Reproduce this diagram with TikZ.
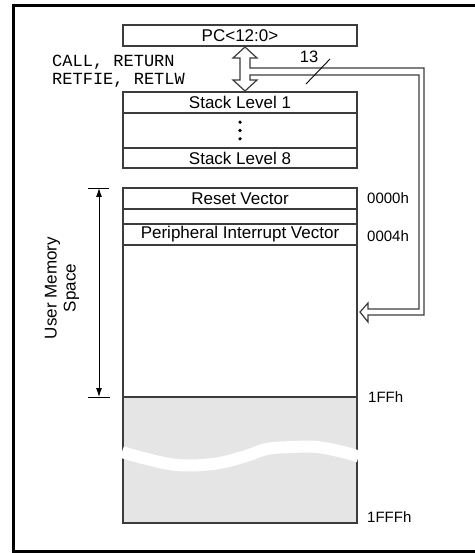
\documentclass[tikz,border=0pt]{standalone}
\usepackage{fontspec}
\setmainfont{Liberation Sans}
\newfontfamily\codefont{Liberation Mono}
\usetikzlibrary{positioning,calc,arrows.meta}
\definecolor{edgegray}{RGB}{60,60,60}
\definecolor{romgray}{RGB}{229,229,229}

\begin{document}
\begin{tikzpicture}[
        x=1pt, y=-1pt,
        font=\fontsize{17}{20}\selectfont,
        cell/.style={rectangle, draw=edgegray, line width=1.3, fill=#1, inner sep=1pt, outer sep=0pt, minimum width=234, anchor=north},
        cell/.default=white,
        addr/.style={anchor=west, inner sep=0pt, font=\fontsize{15}{18}\selectfont},
        bus/.style={draw=edgegray, fill=white, line width=1.2, line join=miter},
        dim/.style={{Latex[length=9,width=6]}-{Latex[length=9,width=6]}, line width=0.9}
    ]
        \useasboundingbox (0,0) rectangle (474,553);
        \draw[line width=2.7] (13.7,5.7) rectangle (500,551.3);

        % program counter and stack
        \node[cell, minimum height=21] (pc) at (240,25) {PC<12:0>};
        \node[cell, minimum height=21] (sl1) at (240,92) {Stack Level 1};
        \node[cell, minimum height=35, below=0pt of sl1] (dots) {};
        \node[cell, minimum height=20, below=0pt of dots] (sl8) {Stack Level 8};
        \foreach \d in {-8.3,0,8.3}
            \fill ($(dots.center)+(0,\d)$) circle (1.8);

        % program memory map
        \node[cell, minimum height=21] (reset) at (240,188) {Reset Vector};
        \node[cell, minimum height=15, below=0pt of reset] (gap) {};
        \node[cell, minimum height=21, below=0pt of gap] (piv) {Peripheral Interrupt Vector};
        \node[cell, minimum height=152, below=0pt of piv] (user) {};
        \node[cell=romgray, minimum height=126, below=0pt of user] (rom) {};
        \draw[white, line width=12] plot[smooth, tension=0.6] coordinates
            {(122,452) (143,458) (177,465) (213,464) (243,457) (267,449) (293,447) (317,447) (343,452) (358.6,456.5)};

        \node[addr] (a0) at ($(reset.east)+(10,0)$) {0000h};
        \node[addr] (a4) at ($(piv.east)+(10,2)$) {0004h};
        \node[addr] (a1ff) at ($(rom.north east)+(11,0)$) {1FFh};
        \node[addr] (a1fff) at ($(rom.south east)+(10,-6)$) {1FFFh};

        % stack instructions
        \node[anchor=west, align=left, inner sep=0pt, font=\codefont\fontsize{17}{18}\selectfont] (instr) at (52,71)
            {CALL, RETURN\\RETFIE, RETLW};

        % 13-bit bus between PC, stack and memory
        \coordinate (bt) at ($(pc.south)+(5,1)$);
        \coordinate (bb) at ($(sl1.north)+(5,-1)$);
        \coordinate (ut) at ($(user.east)+(3,-9)$);
        \draw[bus] (bt) -- ++(12,11) -- ++(-7,0) |- (424,68) |- ($(ut)+(8,3)$) -- ++(0,7) -- (ut)
            -- ++(8,-9) -- ++(0,6) -| (419,75) -- (250,75) -- (250,80) -- (257,80) -- (bb)
            -- (233,80) -- (240,80) -- (240,58) -- (233,58) -- cycle;
        \draw[line width=0.9] (306,84) -- (330,59);
        \node[inner sep=0pt, font=\fontsize{16.5}{18}\selectfont] (width) at (309,57) {13};

        % user memory span
        \coordinate (dt) at ($(reset.north west)+(-24,0)$);
        \coordinate (db) at ($(rom.north west)+(-24,0)$);
        \draw[dim] (dt) -- (db);
        \draw[line width=0.9] ($(dt)+(-11,0)$) -- ($(dt)+(10,0)$);
        \draw[line width=0.9] ($(db)+(-11,0)$) -- ($(db)+(11,0)$);
        \node[rotate=90, align=center, inner sep=0pt, font=\fontsize{17}{19}\selectfont] (ums) at (62,288) {User Memory\\Space};
    \end{tikzpicture}
\end{document}
